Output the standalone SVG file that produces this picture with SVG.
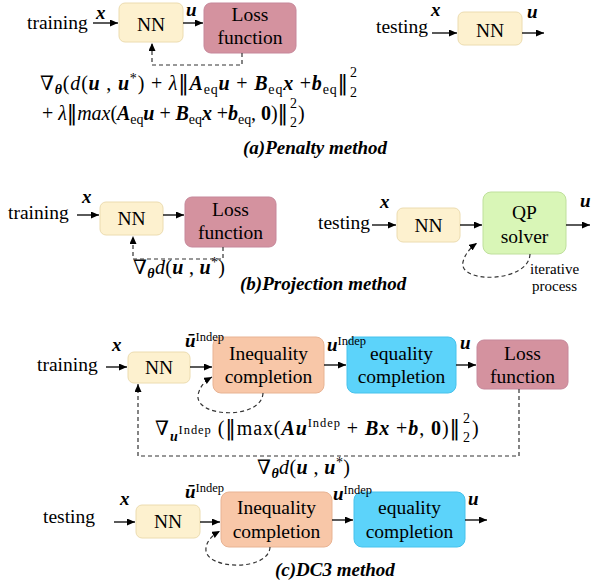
<svg xmlns="http://www.w3.org/2000/svg" width="594" height="582" viewBox="0 0 594 582">
  <style>
    text { font-family: "Liberation Serif", "DejaVu Serif", serif; fill: #000; }
    .t { font-size: 19.5px; }
    .c { text-anchor: middle; }
    .bi { font-weight: bold; font-style: italic; }
    .b { font-weight: bold; }
    .i { font-style: italic; }
    .m { font-size: 20px; }
    .s { font-size: 14px; }
    .ss { font-size: 12.5px; }
    .up { font-weight: normal; font-style: normal; }
    .nb { font-family: "DejaVu Sans", sans-serif; font-size: 21px; }
    .cap { font-size: 19px; font-weight: bold; font-style: italic; }
    .note { font-size: 15px; }
    .lab { font-size: 19px; font-weight: bold; font-style: italic; }
    .arr { stroke: #000; stroke-width: 1.3; fill: none; marker-end: url(#ah); }
    .dasharr { stroke: #333; stroke-width: 1.2; stroke-dasharray: 4 3; fill: none; marker-end: url(#ah); }
    .nn { fill: #fdf1cf; stroke: #ecdcb0; stroke-width: 1; }
    .loss { fill: #d4929f; stroke: #c6879a; stroke-width: 1; }
    .qp { fill: #d9f6b7; stroke: #bfe09c; stroke-width: 1; }
    .ineq { fill: #f8c7a8; stroke: #e8b393; stroke-width: 1; }
    .eq { fill: #5cd3fa; stroke: #46c2ec; stroke-width: 1; }
  </style>
  <defs>
    <marker id="ah" markerUnits="userSpaceOnUse" markerWidth="9" markerHeight="8" refX="8" refY="3.5" orient="auto">
      <path d="M0,0 L8,3.5 L0,7 z" fill="#000"/>
    </marker>
  </defs>

  <!-- (a) penalty method: training -->
  <text class="t" x="27" y="29">training</text>
  <text class="lab" x="96" y="19">x</text>
  <g id="a-nn-train"><rect class="nn" x="119" y="3" width="64" height="39" rx="6"/><text class="t c" x="151" y="31">NN</text></g>
  <text class="lab" x="186" y="16">u</text>
  <g id="a-loss"><rect class="loss" x="204" y="3" width="92" height="50" rx="7"/><text class="t c" x="250" y="21">Loss</text><text class="t c" x="250" y="44">function</text></g>

  <!-- (a) penalty method: testing -->
  <text class="t" x="376" y="33">testing</text>
  <text class="lab" x="431" y="16">x</text>
  <g id="a-nn-test"><rect class="nn" x="458" y="12" width="64" height="33" rx="6"/><text class="t c" x="490" y="37">NN</text></g>
  <text class="lab" x="527" y="18">u</text>

  <!-- penalty loss gradient -->
  <text class="m" x="40" y="90" textLength="308"><tspan class="i">∇</tspan><tspan class="bi s" dy="4">θ</tspan><tspan dy="-4">(</tspan><tspan class="i">d</tspan>(<tspan class="bi">u</tspan> , <tspan class="bi">u</tspan><tspan class="s" dy="-7">*</tspan><tspan dy="7">) + </tspan><tspan class="i">λ</tspan><tspan class="nb">‖</tspan><tspan class="bi">A</tspan><tspan class="s" dy="4">eq</tspan><tspan class="bi" dy="-4">u</tspan> + <tspan class="bi">B</tspan><tspan class="s" dy="4">eq</tspan><tspan class="bi" dy="-4">x</tspan> +<tspan class="bi">b</tspan><tspan class="s" dy="4">eq</tspan><tspan class="nb" dy="-4">‖</tspan></text>
  <text class="s" x="350" y="77">2</text>
  <text class="s" x="350" y="97">2</text>
  <text class="m" x="42" y="120" textLength="246">+ <tspan class="i">λ</tspan><tspan class="nb">‖</tspan><tspan class="i">max</tspan>(<tspan class="bi">A</tspan><tspan class="s" dy="4">eq</tspan><tspan class="bi" dy="-4">u</tspan> + <tspan class="bi">B</tspan><tspan class="s" dy="4">eq</tspan><tspan class="bi" dy="-4">x</tspan> +<tspan class="bi">b</tspan><tspan class="s" dy="4">eq</tspan><tspan dy="-4">, </tspan><tspan class="b">0</tspan>)<tspan class="nb">‖</tspan></text>
  <text class="s" x="290" y="108">2</text>
  <text class="s" x="290" y="127">2</text>
  <text class="m" x="298" y="120">)</text>

  <text class="cap" x="243" y="154">(a)Penalty method</text>

  <!-- (b) projection method: training -->
  <text class="t" x="8" y="219">training</text>
  <text class="lab" x="82" y="203">x</text>
  <g id="b-nn-train"><rect class="nn" x="100" y="202" width="63" height="33" rx="6"/><text class="t c" x="131.5" y="225">NN</text></g>
  <g id="b-loss"><rect class="loss" x="185" y="197" width="91" height="50" rx="7"/><text class="t c" x="230.5" y="216">Loss</text><text class="t c" x="230.5" y="239">function</text></g>
  <text class="m" x="133" y="274" textLength="92"><tspan class="i">∇</tspan><tspan class="bi s" dy="4">θ</tspan><tspan class="i" dy="-4">d</tspan>(<tspan class="bi">u</tspan> , <tspan class="bi">u</tspan><tspan class="s" dy="-7">*</tspan><tspan dy="7">)</tspan></text>

  <!-- (b) projection method: testing -->
  <text class="t" x="318" y="229">testing</text>
  <text class="lab" x="380" y="208">x</text>
  <g id="b-nn-test"><rect class="nn" x="397" y="208" width="63" height="34" rx="6"/><text class="t c" x="428.5" y="232">NN</text></g>
  <g id="b-qp"><rect class="qp" x="483" y="192" width="83" height="62" rx="8"/><text class="t c" x="524.5" y="219">QP</text><text class="t c" x="524.5" y="243">solver</text></g>
  <text class="lab" x="580" y="207">u</text>
  <text class="note" x="530" y="274">iterative</text>
  <text class="note" x="532" y="291">process</text>

  <text class="cap" x="240" y="290">(b)Projection method</text>

  <!-- (c) DC3 method: training -->
  <text class="t" x="37" y="371">training</text>
  <text class="lab" x="112" y="351">x</text>
  <g id="c-nn-train"><rect class="nn" x="128" y="352" width="62" height="31" rx="6"/><text class="t c" x="159" y="374">NN</text></g>
  <g id="c-ineq-train"><rect class="ineq" x="213" y="337" width="111" height="56" rx="8"/><text class="t c" x="268.5" y="360">Inequality</text><text class="t c" x="268.5" y="383">completion</text></g>
  <g id="c-eq-train"><rect class="eq" x="347" y="337" width="109" height="56" rx="8"/><text class="t c" x="401.5" y="360">equality</text><text class="t c" x="401.5" y="383">completion</text></g>
  <g id="c-loss"><rect class="loss" x="477" y="340" width="91" height="49" rx="7"/><text class="t c" x="522.5" y="360">Loss</text><text class="t c" x="522.5" y="383">function</text></g>
  <text class="lab" x="185" y="347">ū<tspan class="ss up" dy="-6">Indep</tspan></text>
  <text class="lab" x="327" y="351">u<tspan class="ss up" dy="-6">Indep</tspan></text>
  <text class="lab" x="460" y="349">u</text>

  <!-- inequality correction gradient -->
  <text class="m" x="155" y="435" textLength="305"><tspan class="i">∇</tspan><tspan class="bi s" dy="6">u</tspan><tspan class="ss" dy="-7">Indep</tspan><tspan dy="1"> (</tspan><tspan class="nb">‖</tspan>max(<tspan class="bi">Au</tspan><tspan class="ss" dy="-8">Indep</tspan><tspan dy="8"> + </tspan><tspan class="bi">Bx</tspan> +<tspan class="bi">b</tspan>, <tspan class="b">0</tspan>)<tspan class="nb">‖</tspan></text>
  <text class="s" x="463" y="423">2</text>
  <text class="s" x="463" y="442">2</text>
  <text class="m" x="472" y="435">)</text>
  <text class="m" x="257" y="474" textLength="93"><tspan class="i">∇</tspan><tspan class="bi s" dy="4">θ</tspan><tspan class="i" dy="-4">d</tspan>(<tspan class="bi">u</tspan> , <tspan class="bi">u</tspan><tspan class="s" dy="-7">*</tspan><tspan dy="7">)</tspan></text>

  <!-- (c) DC3 method: testing -->
  <text class="t" x="43" y="523">testing</text>
  <text class="lab" x="120" y="505">x</text>
  <g id="c-nn-test"><rect class="nn" x="136" y="505" width="64" height="33" rx="6"/><text class="t c" x="168" y="528">NN</text></g>
  <g id="c-ineq-test"><rect class="ineq" x="221" y="492" width="111" height="55" rx="8"/><text class="t c" x="276.5" y="514">Inequality</text><text class="t c" x="276.5" y="538">completion</text></g>
  <g id="c-eq-test"><rect class="eq" x="354" y="492" width="111" height="55" rx="8"/><text class="t c" x="409.5" y="514">equality</text><text class="t c" x="409.5" y="538">completion</text></g>
  <text class="lab" x="185" y="498">ū<tspan class="ss up" dy="-6">Indep</tspan></text>
  <text class="lab" x="333" y="500">u<tspan class="ss up" dy="-6">Indep</tspan></text>
  <text class="lab" x="468" y="505">u</text>

  <text class="cap" x="275" y="576">(c)DC3 method</text>

  <!-- connectors -->
  <g id="connectors">
    <line class="arr" x1="93" y1="23" x2="118" y2="23"/>
    <line class="arr" x1="183" y1="23" x2="203" y2="23"/>
    <path class="dasharr" d="M242,53 V65 H152 V43"/>
    <line class="arr" x1="432" y1="33" x2="457" y2="33"/>
    <line class="arr" x1="522" y1="33" x2="544" y2="33"/>

    <line class="arr" x1="77" y1="215" x2="99" y2="215"/>
    <line class="arr" x1="163" y1="215" x2="184" y2="215"/>
    <path class="dasharr" d="M223,247 V259 H133 V236"/>
    <line class="arr" x1="372" y1="225" x2="396" y2="225"/>
    <line class="arr" x1="460" y1="225" x2="482" y2="225"/>
    <line class="arr" x1="566" y1="225" x2="590" y2="225"/>
    <path class="dasharr" d="M530,254 C529,283 458,284 463,262 C465,254 470,248 477,243"/>

    <line class="arr" x1="106" y1="367" x2="127" y2="367"/>
    <line class="arr" x1="190" y1="367" x2="212" y2="367"/>
    <line class="arr" x1="324" y1="365" x2="346" y2="365"/>
    <line class="arr" x1="456" y1="365" x2="476" y2="365"/>
    <path class="dasharr" d="M263,393 C262,420 195,418 198,395 C200,386 205,381 212,377"/>
    <path class="dasharr" d="M519,389 V456 H138 V384"/>

    <line class="arr" x1="114" y1="522" x2="135" y2="522"/>
    <line class="arr" x1="200" y1="522" x2="220" y2="522"/>
    <line class="arr" x1="332" y1="520" x2="353" y2="520"/>
    <line class="arr" x1="465" y1="520" x2="487" y2="520"/>
    <path class="dasharr" d="M270,547 C269,572 203,570 206,548 C207,540 213,535 220,531"/>
  </g>
</svg>
